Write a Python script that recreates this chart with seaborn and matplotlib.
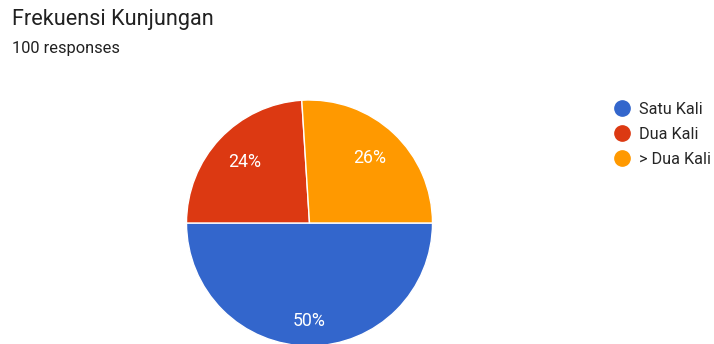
import matplotlib
matplotlib.use("Agg")
import matplotlib.pyplot as plt
import seaborn as sns
from matplotlib.lines import Line2D

sns.set_theme(style="white")
plt.rcParams['font.family'] = ['Roboto', 'DejaVu Sans']

title = "Frekuensi Kunjungan"
subtitle = "100 responses"
categories = ["Satu Kali", "Dua Kali", "> Dua Kali"]
values = [50, 24, 26]
colors = ["#3366cc", "#dc3912", "#ff9900"]

W, H = 714, 344
fig = plt.figure(figsize=(W / 100, H / 100), dpi=100)
fig.patch.set_facecolor("white")

cx, cy, r = 309.5, 223, 123
ax = fig.add_axes([(cx - r) / W, (H - cy - r) / H, 2 * r / W, 2 * r / H])
wedges, texts, autotexts = ax.pie(
    values, colors=colors, startangle=0, counterclock=False,
    autopct=lambda p: f"{p:.0f}%", pctdistance=0.72, radius=1,
    wedgeprops=dict(edgecolor="white", linewidth=1),
    textprops=dict(color="white", fontsize=12.8),
)
# the half-pie label sits a bit further out
x0, y0 = autotexts[0].get_position()
autotexts[0].set_position((x0 * 0.8 / 0.72, y0 * 0.8 / 0.72))
ax.set_xlim(-1, 1)
ax.set_ylim(-1, 1)
ax.set_aspect("equal")
ax.axis("off")

fig.text(12 / W, 1 - 20 / H, title, fontsize=15.6, color="#212121", va="center", ha="left")
fig.text(12 / W, 1 - 48 / H, subtitle, fontsize=11.8, color="#212121", va="center", ha="left")

handles = [Line2D([0], [0], marker="o", linestyle="", markersize=11,
                  markerfacecolor=c, markeredgecolor=c) for c in colors]
fig.legend(handles, categories, loc="upper left", bbox_to_anchor=(612 / W, 1 - 102 / H),
           frameon=False, fontsize=11.7, handletextpad=0.45, labelspacing=0.6,
           handlelength=1.2, borderaxespad=0, borderpad=0)

fig.savefig("out.png", dpi=100)
